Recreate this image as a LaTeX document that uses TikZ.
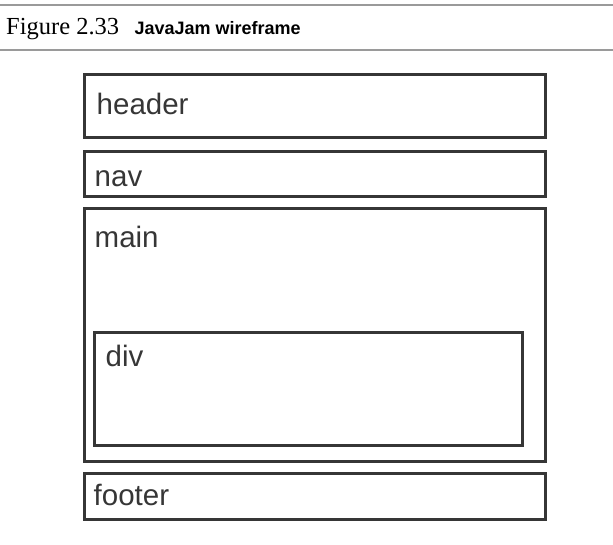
\documentclass[tikz,border=0pt]{standalone}
\usepackage{fontspec}
\setmainfont{Liberation Serif}
\newfontfamily\boxfont{Liberation Sans}
\usetikzlibrary{positioning}
\definecolor{wireline}{HTML}{363636}
\definecolor{rulegray}{HTML}{9A9A9A}
\tikzset{
  wbox/.style={draw=wireline, line width=3pt, inner sep=0pt, outer sep=0pt, anchor=north west},
  wlabel/.style={anchor=base west, inner sep=0pt, text=wireline, font=\boxfont\fontsize{29.5}{29.5}\selectfont},
}

\begin{document}
\begin{tikzpicture}[x=1pt,y=-1pt]
\useasboundingbox (0,0) rectangle (613,545);
% title and rules
\coordinate (ruleA) at (0,5);
\coordinate (ruleB) at (613,5);
\coordinate (ruleC) at (0,50);
\coordinate (ruleD) at (613,50);
\draw [rulegray, line width=2pt] (ruleA) -- (ruleB);
\draw [rulegray, line width=2pt] (ruleC) -- (ruleD);
\node (fignum) [anchor=base west, inner sep=0pt, font=\fontsize{24.5}{24.5}\selectfont] at (6,35) {Figure 2.33};
\node (figtitle) [right=15pt of fignum.base east, anchor=base west, inner sep=0pt,
  font=\boxfont\bfseries\fontsize{18}{18}\selectfont] {JavaJam wireframe};

% wireframe boxes
\node (header) [wbox, minimum width=461pt, minimum height=63.5pt] at (84.5,74.5) {};
\node (nav) [below=13.5pt of header.south west, wbox, minimum width=461pt, minimum height=45pt] {};
\node (main) [below=12pt of nav.south west, wbox, minimum width=461pt, minimum height=253pt] {};
\node (div) [below right=124pt and 10pt of main.north west, wbox, minimum width=428pt, minimum height=113pt] {};
\node (footer) [below=11.5pt of main.south west, wbox, minimum width=461pt, minimum height=46pt] {};

% labels
\node (headerlbl) [below right=40.5pt and 12pt of header.north west, wlabel] {header};
\node (navlbl) [below right=35pt and 10pt of nav.north west, wlabel] {nav};
\node (mainlbl) [below right=39.5pt and 10pt of main.north west, wlabel] {main};
\node (divlbl) [below right=34pt and 11pt of div.north west, wlabel] {div};
\node (footerlbl) [below right=32pt and 9pt of footer.north west, wlabel] {footer};
\end{tikzpicture}
\end{document}
